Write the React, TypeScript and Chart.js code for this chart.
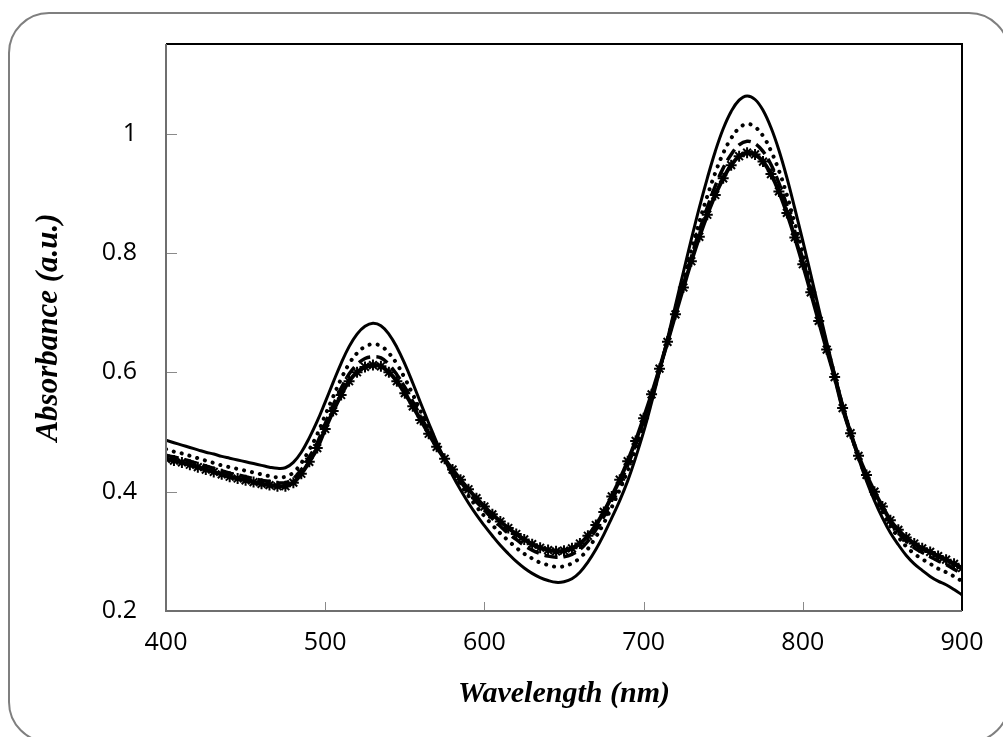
import React, { useEffect, useRef } from "react";
import { Chart, registerables } from "chart.js";

Chart.register(...registerables);

const wavelengths = [
  400, 405, 410, 415, 420, 425, 430, 435, 440, 445, 450, 455, 460, 465, 470, 475, 480, 485, 490, 495,
  500, 505, 510, 515, 520, 525, 530, 535, 540, 545, 550, 555, 560, 565, 570, 575, 580, 585, 590, 595,
  600, 605, 610, 615, 620, 625, 630, 635, 640, 645, 650, 655, 660, 665, 670, 675, 680, 685, 690, 695,
  700, 705, 710, 715, 720, 725, 730, 735, 740, 745, 750, 755, 760, 765, 770, 775, 780, 785, 790, 795,
  800, 805, 810, 815, 820, 825, 830, 835, 840, 845, 850, 855, 860, 865, 870, 875, 880, 885, 890, 895,
  900,
];

const solidSeries = [
  0.486, 0.482, 0.478, 0.474, 0.47, 0.466, 0.463, 0.459, 0.456, 0.453, 0.45, 0.447, 0.444, 0.441, 0.439, 0.44, 0.449, 0.466, 0.49, 0.518,
  0.55, 0.583, 0.615, 0.643, 0.664, 0.677, 0.682, 0.678, 0.664, 0.642, 0.614, 0.582, 0.548, 0.515, 0.483, 0.454, 0.427, 0.403, 0.381, 0.361,
  0.343, 0.326, 0.31, 0.296, 0.283, 0.272, 0.263, 0.256, 0.251, 0.248, 0.249, 0.254, 0.265, 0.282, 0.303, 0.328, 0.356, 0.385, 0.418, 0.457,
  0.5, 0.549, 0.601, 0.656, 0.712, 0.768, 0.823, 0.876, 0.925, 0.97, 1.008, 1.037, 1.056, 1.063, 1.057, 1.039, 1.01, 0.972, 0.926, 0.874,
  0.82, 0.764, 0.707, 0.651, 0.597, 0.546, 0.499, 0.456, 0.418, 0.385, 0.356, 0.331, 0.311, 0.293, 0.279, 0.268, 0.258, 0.25, 0.244, 0.236,
  0.227,
];

const dottedSeries = [
  0.471, 0.467, 0.464, 0.46, 0.456, 0.452, 0.448, 0.444, 0.441, 0.438, 0.435, 0.432, 0.429, 0.426, 0.424, 0.425, 0.432, 0.448, 0.47, 0.496,
  0.528, 0.559, 0.589, 0.614, 0.632, 0.643, 0.647, 0.644, 0.632, 0.614, 0.59, 0.563, 0.534, 0.506, 0.479, 0.455, 0.432, 0.412, 0.393, 0.375,
  0.359, 0.344, 0.33, 0.318, 0.306, 0.296, 0.288, 0.281, 0.277, 0.274, 0.275, 0.28, 0.289, 0.304, 0.324, 0.347, 0.374, 0.403, 0.435, 0.471,
  0.512, 0.556, 0.604, 0.654, 0.705, 0.755, 0.805, 0.852, 0.895, 0.934, 0.967, 0.992, 1.009, 1.016, 1.011, 0.996, 0.971, 0.938, 0.897, 0.85,
  0.801, 0.749, 0.697, 0.645, 0.595, 0.543, 0.499, 0.458, 0.423, 0.393, 0.366, 0.342, 0.324, 0.308, 0.296, 0.287, 0.279, 0.271, 0.265, 0.258,
  0.25,
];

const dashedSeries = [
  0.461, 0.458, 0.455, 0.451, 0.447, 0.443, 0.439, 0.435, 0.431, 0.428, 0.425, 0.422, 0.419, 0.417, 0.415, 0.415, 0.422, 0.437, 0.458, 0.482,
  0.514, 0.545, 0.573, 0.597, 0.613, 0.623, 0.626, 0.624, 0.613, 0.596, 0.575, 0.551, 0.526, 0.501, 0.477, 0.455, 0.435, 0.417, 0.399, 0.383,
  0.369, 0.355, 0.342, 0.33, 0.32, 0.31, 0.302, 0.296, 0.292, 0.29, 0.291, 0.295, 0.303, 0.317, 0.336, 0.358, 0.385, 0.413, 0.444, 0.479,
  0.518, 0.56, 0.605, 0.652, 0.7, 0.747, 0.793, 0.837, 0.876, 0.912, 0.942, 0.965, 0.981, 0.987, 0.983, 0.97, 0.948, 0.917, 0.879, 0.836,
  0.789, 0.74, 0.69, 0.641, 0.593, 0.541, 0.498, 0.459, 0.426, 0.397, 0.371, 0.348, 0.331, 0.317, 0.306, 0.298, 0.291, 0.284, 0.278, 0.27,
  0.263,
];

const starSeries = [
  0.455, 0.452, 0.449, 0.445, 0.441, 0.437, 0.433, 0.429, 0.425, 0.422, 0.419, 0.416, 0.413, 0.411, 0.409, 0.409, 0.415, 0.43, 0.45, 0.473,
  0.505, 0.535, 0.562, 0.585, 0.6, 0.609, 0.612, 0.61, 0.6, 0.585, 0.565, 0.543, 0.52, 0.497, 0.475, 0.455, 0.437, 0.42, 0.404, 0.389,
  0.375, 0.362, 0.35, 0.339, 0.329, 0.32, 0.312, 0.306, 0.302, 0.3, 0.301, 0.305, 0.313, 0.326, 0.344, 0.366, 0.392, 0.42, 0.451, 0.485,
  0.523, 0.563, 0.606, 0.651, 0.697, 0.742, 0.786, 0.827, 0.864, 0.897, 0.925, 0.947, 0.962, 0.968, 0.965, 0.953, 0.932, 0.903, 0.867, 0.826,
  0.781, 0.734, 0.686, 0.638, 0.592, 0.54, 0.498, 0.46, 0.428, 0.4, 0.375, 0.352, 0.336, 0.323, 0.313, 0.305, 0.299, 0.292, 0.286, 0.279,
  0.272,
];

const xTickValues = [400, 500, 600, 700, 800, 900];
const yTickValues = [0.2, 0.4, 0.6, 0.8, 1];
const xTitle = "Wavelength (nm)";
const yTitle = "Absorbance (a.u.)";

const toPoints = (ys: number[]) => wavelengths.map((x, i) => ({ x, y: ys[i] }));

const framePlugin = {
  id: "framePlugin",
  beforeDraw(chart: any) {
    const ctx = chart.ctx;
    ctx.save();
    ctx.fillStyle = "#ffffff";
    ctx.fillRect(0, 0, chart.width, chart.height);
    ctx.strokeStyle = "#7f7f7f";
    ctx.lineWidth = 2;
    ctx.beginPath();
    ctx.roundRect(9, 13, 1000, 729, 40);
    ctx.stroke();
    ctx.restore();
  },
  afterDraw(chart: any) {
    const { ctx, chartArea: a, scales } = chart;
    ctx.save();
    ctx.strokeStyle = "#8a8a8a";
    ctx.lineWidth = 1;
    yTickValues.forEach((v) => {
      const y = Math.round(scales.y.getPixelForValue(v)) + 0.5;
      ctx.beginPath();
      ctx.moveTo(a.left, y);
      ctx.lineTo(a.left + 11, y);
      ctx.stroke();
    });
    xTickValues.forEach((v) => {
      const x = Math.round(scales.x.getPixelForValue(v)) + 0.5;
      ctx.beginPath();
      ctx.moveTo(x, a.bottom);
      ctx.lineTo(x, a.bottom - 9);
      ctx.stroke();
    });
    ctx.lineWidth = 2;
    ctx.strokeStyle = "#000000";
    ctx.beginPath();
    ctx.moveTo(a.left, a.top);
    ctx.lineTo(a.right, a.top);
    ctx.lineTo(a.right, a.bottom);
    ctx.stroke();
    ctx.strokeStyle = "#6f6f6f";
    ctx.beginPath();
    ctx.moveTo(a.left, a.top);
    ctx.lineTo(a.left, a.bottom);
    ctx.lineTo(a.right, a.bottom);
    ctx.stroke();
    ctx.restore();
  },
};

export default function App() {
  const ref = useRef<HTMLCanvasElement | null>(null);

  useEffect(() => {
    if (!ref.current) return;
    const tickFont = { family: "'Open Sans', 'Noto Sans', sans-serif", size: 25 };
    const xTitleFont = { family: "'Liberation Serif', 'Times New Roman', serif", size: 30, weight: "bold" as const, style: "italic" as const };
    const yTitleFont = { family: "'Liberation Serif', 'Times New Roman', serif", size: 31, weight: "bold" as const, style: "italic" as const };
    const chart = new Chart(ref.current, {
      type: "line",
      data: {
        datasets: [
          {
            label: "A",
            data: toPoints(solidSeries),
            borderColor: "#000",
            borderWidth: 3,
            pointRadius: 0,
            tension: 0.4,
          },
          {
            label: "B",
            data: toPoints(dottedSeries),
            borderColor: "#000",
            borderWidth: 4,
            borderDash: [0.1, 8],
            borderCapStyle: "round",
            pointRadius: 0,
            tension: 0.4,
          },
          {
            label: "C",
            data: toPoints(dashedSeries),
            borderColor: "#000",
            borderWidth: 3.5,
            borderDash: [13, 6],
            pointRadius: 0,
            tension: 0.4,
          },
          {
            label: "D",
            data: toPoints(starSeries),
            borderColor: "#000",
            borderWidth: 4,
            pointStyle: "star",
            pointRadius: 5.5,
            pointBorderWidth: 2,
            pointBorderColor: "#000",
            pointBackgroundColor: "#000",
            tension: 0.4,
          },
        ],
      },
      options: {
        responsive: false,
        animation: false,
        events: [],
        layout: { padding: { left: 0, top: 40, right: 41, bottom: 0 } },
        plugins: { legend: { display: false }, tooltip: { enabled: false } },
        scales: {
          x: {
            type: "linear",
            min: 400,
            max: 900,
            grid: { display: false, drawTicks: false },
            border: { display: false },
            ticks: { stepSize: 100, color: "#000", font: tickFont, padding: 17, maxRotation: 0 },
            title: { display: true, text: xTitle, color: "#000", font: xTitleFont, padding: { top: 0, bottom: 25 } },
            afterFit: (s: any) => {
              s.height = 126;
            },
          },
          y: {
            type: "linear",
            min: 0.2,
            max: 1.15,
            grid: { display: false, drawTicks: false },
            border: { display: false },
            ticks: {
              stepSize: 0.2,
              color: "#000",
              font: tickFont,
              padding: 29,
              callback: (v: any) => String(Number(Number(v).toFixed(1))),
            },
            afterBuildTicks: (s: any) => {
              s.ticks = s.ticks.filter((t: any) => t.value <= 1.0001);
            },
            title: { display: true, text: yTitle, color: "#000", font: yTitleFont, padding: { top: 30, bottom: 0 } },
            afterFit: (s: any) => {
              s.width = 166;
            },
          },
        },
      },
      plugins: [framePlugin],
    });
    return () => chart.destroy();
  }, []);

  return (
    <canvas
      ref={ref}
      width={1003}
      height={737}
      style={{ position: "fixed", left: 0, top: 0, width: 1003, height: 737, display: "block" }}
    />
  );
}
